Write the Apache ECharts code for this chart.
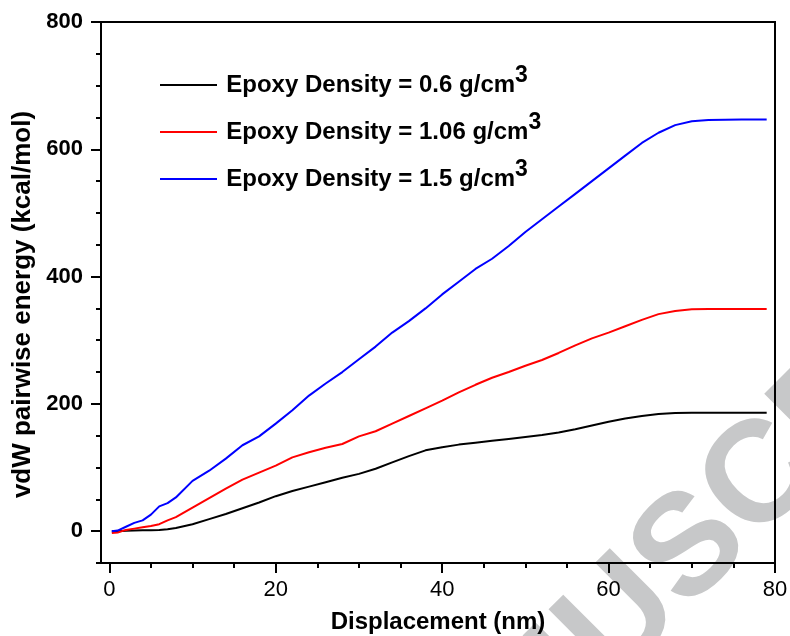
<!DOCTYPE html>
<html>
<head>
<meta charset="utf-8">
<script src="https://cdn.jsdelivr.net/npm/echarts@6/dist/echarts.min.js"></script>
<style>
  html, body { margin: 0; padding: 0; background: #fff; }
  #main { width: 790px; height: 636px; }
</style>
</head>
<body>
<div id="main"></div>
<script>
// displacement (nm)
var displacement = [0.3, 1, 2, 3, 4, 5, 6, 7, 8, 10, 12, 14, 16, 18, 20, 22, 24, 26, 28, 30,
  32, 34, 36, 38, 40, 42, 44, 46, 48, 50, 52, 54, 56, 58, 60, 62, 64, 66, 68, 70, 72, 74, 76, 79];
// vdW pairwise energy (kcal/mol)
var density06 = [0, 0, 0.5, 1, 1.5, 1.5, 2, 3, 5, 11, 19, 27, 36, 45, 55, 63, 70, 77, 84, 90,
  98, 108, 118, 127, 132, 136, 139, 142, 145, 148, 151, 155, 160, 166, 172, 177, 181, 184, 185.5, 186, 186, 186, 186, 186];
var density106 = [-3, -2, 2, 4, 6, 8, 11, 17, 22, 37, 52, 67, 81, 92, 103, 116, 124, 131, 137, 149,
  157, 169, 181, 193, 205, 218, 230, 241, 250, 260, 269, 280, 292, 303, 312, 322, 332, 341, 346, 348.5, 349, 349, 349, 349];
var density15 = [0, 1, 7, 13, 17, 26, 39, 44, 53, 79, 95, 114, 135, 149, 169, 190, 213, 232, 250, 270,
  290, 312, 330, 350, 372, 392, 412, 428, 448, 470, 490, 510, 530, 550, 570, 590, 610, 626, 638, 644, 646, 646.5, 647, 647];

var seriesNames = ["Epoxy Density = 0.6 g/cm3", "Epoxy Density = 1.06 g/cm3", "Epoxy Density = 1.5 g/cm3"];
var seriesColors = ["#000000", "#ff0000", "#0000ff"];
var xMajor = [0, 20, 40, 60, 80];
var xMinor = [0, 5, 10, 15, 20, 25, 30, 35, 40, 45, 50, 55, 60, 65, 70, 75, 80];
var yMajor = [0, 200, 400, 600, 800];

function pairs(ys) {
  return displacement.map(function (x, i) { return [x, ys[i]]; });
}

var yMinor = [];
for (var v = -50; v <= 800; v += 50) yMinor.push(v);

var font = "Liberation Sans";
var chart = echarts.init(document.getElementById("main"));

var option = {
  backgroundColor: "#fff",
  animation: false,
  textStyle: { fontFamily: font },
  grid: {
    left: 101, right: 15, top: 22, bottom: 73,
    outerBoundsMode: "none",
    show: true, borderColor: "#000", borderWidth: 2
  },
  legend: {
    orient: "vertical",
    left: 160,
    top: 64,
    padding: 0,
    icon: "rect",
    itemWidth: 57,
    itemHeight: 2,
    itemGap: 14,
    data: seriesNames,
    formatter: function (name) {
      // superscript the trailing "3" of cm3
      return "{p| }{m|" + name.slice(0, -1) + "}{s|" + name.slice(-1) + "}";
    },
    textStyle: {
      rich: {
        p: { fontSize: 1, lineHeight: 42 },
        m: { fontSize: 24, fontWeight: "bold", color: "#000", fontFamily: font, verticalAlign: "middle", lineHeight: 24, padding: [0, 0, 0, 4] },
        s: { fontSize: 23, fontWeight: "bold", color: "#000", fontFamily: font, verticalAlign: "top", lineHeight: 24 }
      }
    }
  },
  xAxis: [
    {
      type: "value", min: -1, max: 80,
      name: "Displacement (nm)", nameLocation: "middle", nameGap: 47,
      nameTextStyle: { fontSize: 24, fontWeight: "bold", color: "#000", fontFamily: font },
      axisLine: { onZero: false, lineStyle: { color: "#000", width: 2 } },
      axisTick: { length: 10, lineStyle: { color: "#000", width: 2 }, customValues: xMajor },
      axisLabel: { fontSize: 22, color: "#000", margin: 16, customValues: xMajor },
      splitLine: { show: false }
    },
    {
      type: "value", min: -1, max: 80, position: "bottom",
      axisLine: { show: false, onZero: false },
      axisTick: { length: 5, lineStyle: { color: "#000", width: 2 }, customValues: xMinor },
      axisLabel: { show: false },
      splitLine: { show: false }
    }
  ],
  yAxis: [
    {
      type: "value", min: -50, max: 800,
      name: "vdW pairwise energy (kcal/mol)", nameLocation: "middle", nameGap: 54,
      nameTextStyle: { fontSize: 26, fontWeight: "bold", color: "#000", fontFamily: font, padding: [0, 24, 0, 0] },
      axisLine: { onZero: false, lineStyle: { color: "#000", width: 2 } },
      axisTick: { length: 10, lineStyle: { color: "#000", width: 2 }, customValues: yMajor },
      axisLabel: { fontSize: 22, fontWeight: "bold", color: "#000", margin: 18, customValues: yMajor },
      splitLine: { show: false }
    },
    {
      type: "value", min: -50, max: 800, position: "left",
      axisLine: { show: false, onZero: false },
      axisTick: { length: 5, lineStyle: { color: "#000", width: 2 }, customValues: yMinor },
      axisLabel: { show: false },
      splitLine: { show: false }
    }
  ],
  graphic: [
    {
      type: "text",
      x: 692, y: 550,
      rotation: 45 * Math.PI / 180,
      z: -10,
      silent: true,
      style: {
        text: "MANUSCRIPT",
        x: -480, y: 0,
        textAlign: "left",
        textVerticalAlign: "middle",
        font: "bold 144px 'Liberation Sans'",
        fill: "#c7c8c9"
      }
    }
  ],
  series: [density06, density106, density15].map(function (d, i) {
    return {
      name: seriesNames[i],
      type: "line",
      symbol: "none",
      data: pairs(d),
      lineStyle: { color: seriesColors[i], width: 2 },
      itemStyle: { color: seriesColors[i] },
      z: 3
    };
  })
};

chart.setOption(option);
</script>
</body>
</html>
